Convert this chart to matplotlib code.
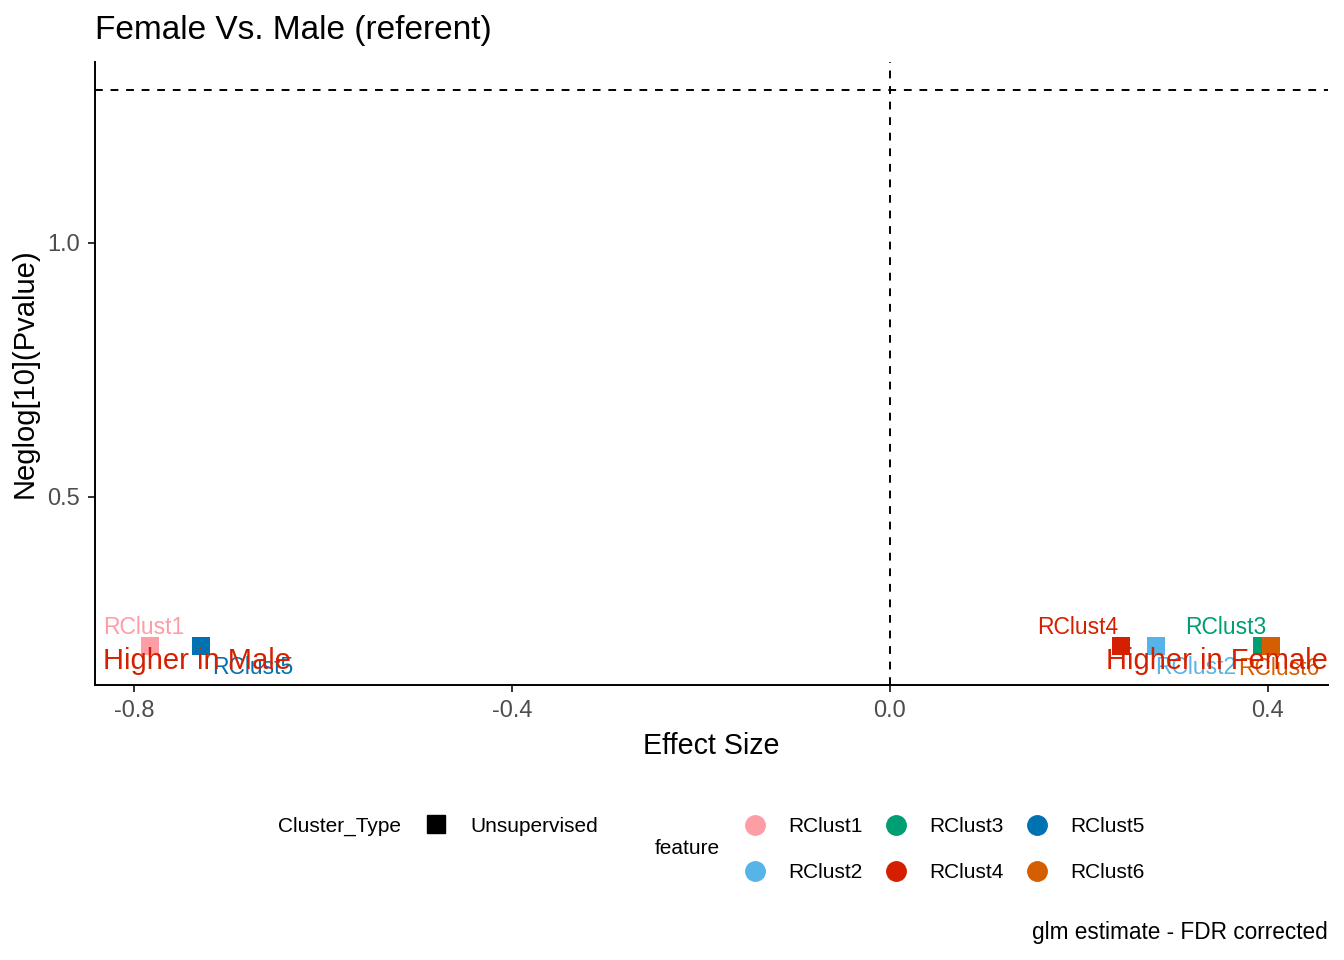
import matplotlib
matplotlib.use("Agg")
from matplotlib import pyplot as plt
from matplotlib.lines import Line2D

plt.rcParams['font.family'] = ['Liberation Sans', 'DejaVu Sans']

# data
features = ['RClust1', 'RClust2', 'RClust3', 'RClust4', 'RClust5', 'RClust6']
effect_size = [-0.783, 0.282, 0.394, 0.244, -0.729, 0.403]
neglog_p = [0.206, 0.207, 0.207, 0.207, 0.207, 0.206]
colors = {'RClust1': '#FF9DA7', 'RClust2': '#56B4E9', 'RClust3': '#009E73',
          'RClust4': '#D52000', 'RClust5': '#0072B2', 'RClust6': '#D55E00'}
sig_line = 1.301  # -log10(0.05)

# label offsets in pixels (like ggrepel)
label_offsets = {'RClust1': (-6, 19), 'RClust2': (39, -22), 'RClust3': (-37, 18),
                 'RClust4': (-43, 18), 'RClust5': (52, -22), 'RClust6': (8, -22)}

fig = plt.figure(figsize=(13.44, 9.6), dpi=100)
ax = fig.add_axes([95/1344, 1-685/960, (1328-95)/1344, (685-62)/960])

for f, x, y in zip(features, effect_size, neglog_p):
    ax.scatter(x, y, marker='s', s=170, color=colors[f], zorder=3, linewidths=0)
    dx, dy = label_offsets[f]
    ax.annotate(f, (x, y), xytext=(dx, dy), textcoords='offset pixels',
                ha='center', va='center', fontsize=16.5, color=colors[f], zorder=4)

ax.axvline(0, color='black', linestyle=(0, (4, 4)), linewidth=1.4)
ax.axhline(sig_line, color='black', linestyle=(0, (4, 4)), linewidth=1.4)

ax.text(-0.733, 0.178, 'Higher in Male', ha='center', va='center', fontsize=21, color='#D52000', zorder=5)
ax.text(0.346, 0.178, 'Higher in Female', ha='center', va='center', fontsize=21, color='#D52000', zorder=5)

ax.set_xlim(-0.841, 0.4635)
ax.set_ylim(0.130, 1.356)
ax.set_xticks([-0.8, -0.4, 0.0, 0.4])
ax.set_xticklabels(['-0.8', '-0.4', '0.0', '0.4'])
ax.set_yticks([0.5, 1.0])
ax.set_yticklabels(['0.5', '1.0'])
ax.tick_params(labelsize=17, labelcolor='#4D4D4D', color='#333333', length=5, width=1.4, pad=6)
for s in ['top', 'right']:
    ax.spines[s].set_visible(False)
for s in ['left', 'bottom']:
    ax.spines[s].set_linewidth(1.4)
ax.set_xlabel('Effect Size', fontsize=20.6)
ax.set_ylabel('Neglog[10](Pvalue)', fontsize=21)
ax.xaxis.labelpad = 7
ax.yaxis.labelpad = 6

fig.text(95/1344, 1-30/960, 'Female Vs. Male (referent)', fontsize=24, va='center', ha='left')
fig.text(1328/1344, 1-933/960, 'glm estimate - FDR corrected', fontsize=16.3, va='center', ha='right')

# legends drawn by hand to mimic ggplot's bottom layout
def px(x, y):
    return x/1344, 1-y/960

fig.text(*px(278, 826), 'Cluster_Type', fontsize=15, va='center', ha='left')
fig.add_artist(Line2D([px(436, 824)[0]], [px(436, 824)[1]], marker='s', markersize=13,
                      color='black', linestyle='none', transform=fig.transFigure))
fig.text(*px(470, 826), 'Unsupervised', fontsize=15, va='center', ha='left')

fig.text(*px(655, 849), 'feature', fontsize=15, va='center', ha='left')
legend_x = [755, 896, 1037]
legend_y = [825, 871]
for i, f in enumerate(features):
    cx = legend_x[i // 2]
    cy = legend_y[i % 2]
    fx, fy = px(cx, cy)
    fig.add_artist(Line2D([fx], [fy], marker='o', markersize=14, color=colors[f],
                          linestyle='none', transform=fig.transFigure))
    fig.text(*px(cx + 33, cy + 1), f, fontsize=15, va='center', ha='left')

fig.savefig('out.png', dpi=100)
